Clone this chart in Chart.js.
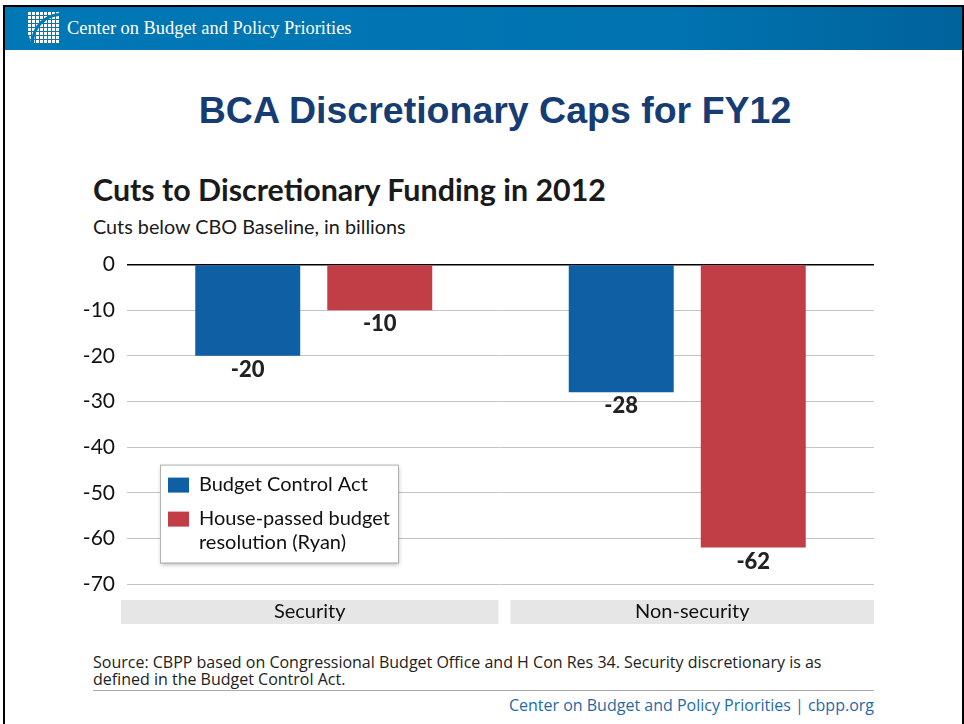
<!DOCTYPE html>
<html>
<head>
<meta charset="utf-8">
<script src="https://cdn.jsdelivr.net/npm/chart.js@4/dist/chart.umd.min.js"></script>
<style>
  html, body { margin: 0; padding: 0; background: #fff; }
  body { width: 964px; height: 724px; position: relative; overflow: hidden; font-family: Lato, "Open Sans", sans-serif; }
  .frame { position: absolute; left: 3px; top: 5px; width: 957px; height: 730px; border: 2px solid #000; border-bottom: none; }
  .band { position: absolute; left: 5px; top: 7px; width: 957px; height: 43px; background: linear-gradient(90deg, #0078b6 0%, #0073b0 70%, #00629b 100%); }
  .logo { position: absolute; left: 27px; top: 11px; width: 32px; height: 32px;
    background-color: #fff;
    background-image: linear-gradient(#0078b6 1px, transparent 1px), linear-gradient(90deg, #0078b6 1px, transparent 1px);
    background-size: 4px 4px; overflow: hidden; }
  .logo::before { content: ""; position: absolute; left: 4px; top: 2px; width: 60px; height: 60px; border-radius: 50%; border-left: 3px solid #0078b6; border-top: 3px solid #0078b6; box-sizing: border-box; }
  .logo::after { content: ""; position: absolute; left: -30px; top: 6px; width: 36px; height: 60px; border-radius: 0 60px 0 0; background: #0078b6; }
  .org { position: absolute; left: 67px; top: 18px; color: #fff; font-family: "Liberation Serif", serif; font-size: 18.4px; }
  h1 { position: absolute; left: 0; width: 990px; top: 89px; margin: 0; text-align: center; font-family: "Liberation Sans", Arial, sans-serif; font-weight: bold; font-size: 37.5px; color: #163c74; }
  .t2 { position: absolute; left: 93px; top: 171px; font-weight: bold; font-size: 30.4px; color: #1a1a1a; }
  .t3 { position: absolute; left: 93px; top: 214px; font-size: 19.8px; color: #1a1a1a; }
  #wrap { position: absolute; left: 0; top: 240px; width: 964px; height: 400px; }
  .src { position: absolute; left: 93px; top: 654px; font-family: "Open Sans", sans-serif; font-size: 16px; line-height: 17px; color: #222; width: 765px; }
  .rule { position: absolute; left: 93px; top: 690px; width: 781px; height: 1px; background: #aaa; }
  .foot { position: absolute; right: 90px; top: 694px; font-family: "Open Sans", sans-serif; font-size: 16px; color: #1f6aa8; }
</style>
</head>
<body>
<div class="frame"></div>
<div class="band"></div>
<div class="logo"></div>
<div class="org">Center on Budget and Policy Priorities</div>
<h1>BCA Discretionary Caps for FY12</h1>
<div class="t2">Cuts to Discretionary Funding in 2012</div>
<div class="t3">Cuts below CBO Baseline, in billions</div>
<div id="wrap"><canvas id="myChart" width="964" height="400"></canvas></div>
<div class="src">Source: CBPP based on Congressional Budget Office and H Con Res 34. Security discretionary is as defined in the Budget Control Act.</div>
<div class="rule"></div>
<div class="foot">Center on Budget and Policy Priorities | cbpp.org</div>
<script>
// categories and series
const categories = ['Security', 'Non-security'];
const bcaValues = [-20, -28];
const ryanValues = [-10, -62];
const seriesNames = ['Budget Control Act', ['House-passed budget', 'resolution (Ryan)']];
const yTicks = [0, -10, -20, -30, -40, -50, -60, -70];

const blue = '#0e5fa3';
const red = '#c13e47';
const textFont = 'Lato, "Open Sans", sans-serif';

// grey bands under each category
const categoryBands = {
	id: 'categoryBands',
	afterDraw(chart) {
		const ctx = chart.ctx;
		const x = chart.scales.x;
		const area = chart.chartArea;
		const half = (x.getPixelForValue(1) - x.getPixelForValue(0)) / 2;
		ctx.save();
		categories.forEach((c, i) => {
			const cx = x.getPixelForValue(i);
			let l = cx - half + 10, r = cx + half - 2;
			if (i === 0) l = area.left - 6;
			if (i === categories.length - 1) r = area.right;
			ctx.fillStyle = '#e6e6e6';
			ctx.fillRect(l, area.bottom + 16, r - l, 24);
			ctx.fillStyle = '#111';
			ctx.font = '20px ' + textFont;
			ctx.textAlign = 'center';
			ctx.textBaseline = 'middle';
			ctx.fillText(c, (l + r) / 2, area.bottom + 28);
		});
		ctx.restore();
	}
};

// value labels under bar ends
const valueLabels = {
	id: 'valueLabels',
	afterDatasetsDraw(chart) {
		const ctx = chart.ctx;
		ctx.save();
		ctx.font = '900 22px ' + textFont;
		ctx.fillStyle = '#222';
		ctx.textAlign = 'center';
		ctx.textBaseline = 'top';
		chart.data.datasets.forEach((ds, di) => {
			chart.getDatasetMeta(di).data.forEach((bar, i) => {
				ctx.fillText(String(ds.data[i]), bar.x, bar.y + 3);
			});
		});
		ctx.restore();
	}
};

// boxed legend inside the plot
const boxLegend = {
	id: 'boxLegend',
	afterDraw(chart) {
		const ctx = chart.ctx;
		const area = chart.chartArea;
		const l = area.left + 33, t = area.top + 200, w = 238, h = 98;
		ctx.save();
		ctx.shadowColor = 'rgba(0,0,0,0.25)';
		ctx.shadowBlur = 4;
		ctx.shadowOffsetX = 1;
		ctx.shadowOffsetY = 2;
		ctx.fillStyle = '#fff';
		ctx.fillRect(l, t, w, h);
		ctx.restore();
		ctx.save();
		ctx.strokeStyle = '#b0b0b0';
		ctx.lineWidth = 1;
		ctx.strokeRect(l + 0.5, t + 0.5, w, h);
		ctx.font = '20px ' + textFont;
		ctx.fillStyle = '#111';
		ctx.textBaseline = 'middle';
		const rows = [t + 20, t + 54];
		chart.data.datasets.forEach((ds, i) => {
			ctx.fillStyle = ds.backgroundColor;
			ctx.fillRect(l + 8, rows[i] - 7, 21, 15);
			ctx.fillStyle = '#111';
			const lines = [].concat(seriesNames[i]);
			lines.forEach((s, k) => ctx.fillText(s, l + 39, rows[i] + k * 24));
		});
		ctx.restore();
	}
};

new Chart('myChart', {
	type: 'bar',
	data: {
		labels: categories,
		datasets: [
			{ label: 'Budget Control Act', data: bcaValues, backgroundColor: blue },
			{ label: 'House-passed budget resolution (Ryan)', data: ryanValues, backgroundColor: red }
		]
	},
	options: {
		responsive: false,
		animation: false,
		events: [],
		categoryPercentage: 0.707,
		barPercentage: 0.795,
		layout: { padding: { top: 22, right: 90, bottom: 56, left: 0 } },
		plugins: { legend: { display: false }, tooltip: { enabled: false } },
		scales: {
			x: { display: false },
			y: {
				min: -70,
				max: 0,
				afterFit(scale) { scale.width = 127; },
				afterBuildTicks(scale) { scale.ticks = yTicks.map(v => ({ value: v })); },
				border: { display: false },
				grid: {
					drawTicks: false,
					color: ctx => ctx.tick.value === 0 ? '#000' : '#c4c4c4',
					lineWidth: ctx => ctx.tick.value === 0 ? 1.5 : 1
				},
				ticks: {
					padding: 12,
					color: '#111',
					font: { family: textFont, size: 21 }
				}
			}
		}
	},
	plugins: [valueLabels, categoryBands, boxLegend]
});
</script>
</body>
</html>
